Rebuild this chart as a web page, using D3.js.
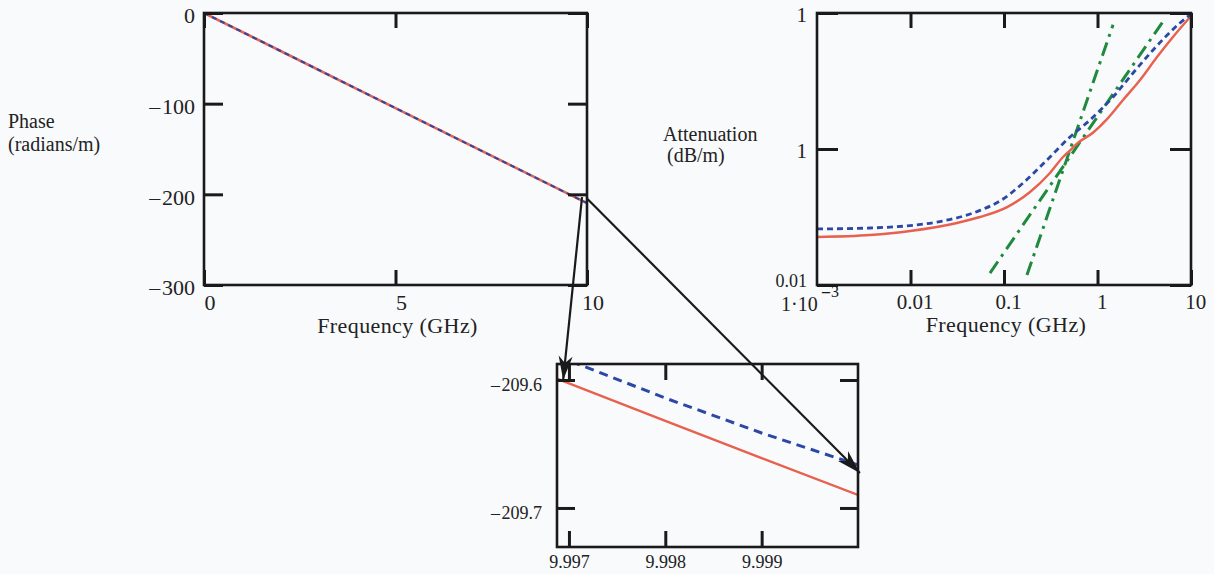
<!DOCTYPE html>
<html>
<head>
<meta charset="utf-8">
<script src="https://cdn.jsdelivr.net/npm/d3@7"></script>
<style>
body { margin: 0; background: #f9fafc; }
svg { display: block; font-family: "Liberation Serif", "Times New Roman", serif; }
.frame { fill: none; stroke: #1a1a1a; stroke-width: 2.6; }
.tick line { stroke: #1a1a1a; stroke-width: 3; }
.tick text { fill: #222; }
.domain { display: none; }
.lbl { fill: #222; }
</style>
</head>
<body>
<svg id="chart" width="1214" height="574"></svg>
<script>
// phase vs frequency (left)
const phaseFreq = [0, 2, 4, 6, 8, 10];
const phaseRed = [0, -41.9, -83.9, -125.8, -167.8, -209.69];
const phaseBlue = [0, -41.9, -83.9, -125.8, -167.8, -209.67];
const phaseYTicks = [0, -100, -200, -300];
const phaseXTicks = [0, 5, 10];

// attenuation vs frequency (right, log-log)
const attRedFreq = [0.001, 0.00369, 0.00989, 0.0314, 0.0553, 0.108, 0.19, 0.31, 0.428, 0.52, 0.604, 0.9, 1.265, 1.875, 2.85, 4.33, 6.41, 10];
const attRedVal = [0.0508, 0.0543, 0.0622, 0.0817, 0.1, 0.14, 0.233, 0.444, 0.762, 0.98, 1.2, 1.75, 2.75, 5.26, 10.35, 22.5, 44.4, 90.4];
const attBlueFreq = [0.001, 0.00369, 0.0192, 0.0553, 0.0906, 0.16, 0.288, 0.508, 0.832, 1.466, 2.4, 3.93, 7.62, 10];
const attBlueVal = [0.0667, 0.0689, 0.0843, 0.125, 0.172, 0.316, 0.689, 1.5, 2.67, 5.82, 13.1, 28.6, 71.3, 96.6];
const attGreenAFreq = [0.0708, 0.2, 0.5, 1, 2, 5.02];
const attGreenAVal = [0.015, 0.12, 0.748, 2.99, 11.97, 75.3];
const attGreenBFreq = [0.176, 0.3, 0.5, 0.8, 1.0, 1.466];
const attGreenBVal = [0.014, 0.118, 0.912, 5.98, 14.6, 67.0];
const attXTicks = [0.01, 0.1, 1, 10];
const attYTicks = [0.01, 1, 100];
const attYLabels = ["0.01", "1", "1"];

// zoomed inset near 10 GHz
const zoomFreq = [9.99688, 9.998, 9.999, 10.0];
const zoomRed = [-209.5992, -209.632, -209.661, -209.6898];
const zoomBlue = [-209.5813, -209.6141, -209.6414, -209.6664];
const zoomXTicks = [9.997, 9.998, 9.999];
const zoomYTicks = [-209.6, -209.7];

const RED = "#e8604e", BLUE = "#2b48a6", GREEN = "#1f8a3e", INK = "#1a1a1a";
const SERIF = "'Liberation Serif', 'Times New Roman', serif";

const svg = d3.select("#chart");
const defs = svg.append("defs");

defs.append("marker")
    .attr("id", "arrow")
    .attr("markerUnits", "userSpaceOnUse")
    .attr("viewBox", "-24 -9 26 18")
    .attr("markerWidth", 26).attr("markerHeight", 18)
    .attr("refX", 0).attr("refY", 0)
    .attr("orient", "auto")
    .append("path")
    .attr("d", "M0,0 L-24,-7 L-17,0 L-24,7 Z")
    .attr("fill", INK);

function clip(id, x, y) {
    const [x0, x1] = x.range(), [y0, y1] = y.range();
    defs.append("clipPath").attr("id", id).append("rect")
        .attr("x", x0).attr("y", y1).attr("width", x1 - x0).attr("height", y0 - y1);
}

function frame(x, y) {
    const [x0, x1] = x.range(), [y0, y1] = y.range();
    svg.append("rect").attr("class", "frame")
        .attr("x", x0).attr("y", y1).attr("width", x1 - x0).attr("height", y0 - y1);
}

function axes(x, y, o) {
    const [x0, x1] = x.range(), [y0, y1] = y.range();
    const g = svg.append("g");
    const left = g.append("g").attr("transform", `translate(${x0},0)`)
        .call(d3.axisLeft(y).tickValues(o.yTicks).tickSize(-o.yLen).tickPadding(o.yPad).tickFormat(o.yFmt));
    g.append("g").attr("transform", `translate(${x1},0)`)
        .call(d3.axisRight(y).tickValues(o.yTicks).tickSize(-o.yLen).tickFormat(""));
    const bottom = g.append("g").attr("transform", `translate(0,${y0})`)
        .call(d3.axisBottom(x).tickValues(o.xTicks).tickSize(-o.xLen).tickPadding(o.xPad).tickFormat(o.xFmt));
    g.append("g").attr("transform", `translate(0,${y1})`)
        .call(d3.axisTop(x).tickValues(o.xTicks).tickSize(-o.xLen).tickFormat(""));
    g.selectAll("g").attr("font-size", o.fs).attr("font-family", SERIF);
    left.selectAll("text").attr("dy", o.yDy || "0.45em");
    bottom.selectAll("text").attr("dx", o.xDx || 0);
    return { left, bottom };
}

// Mathcad style negative numbers: short dash, small gap, digits
const minus = v => v < 0 ? "\u2013\u200a" + Math.abs(v) : String(v);

// ---------- left: phase ----------
const px = d3.scaleLinear().domain([0, 10]).range([204, 587]);
const py = d3.scaleLinear().domain([-300, 0]).range([285, 13]);
clip("clipPhase", px, py);

const phaseLine = (vals) => d3.line().x((d, i) => px(phaseFreq[i])).y(d => py(d))(vals);
const gp = svg.append("g").attr("clip-path", "url(#clipPhase)");
gp.append("path").attr("d", phaseLine(phaseRed)).attr("fill", "none").attr("stroke", RED).attr("stroke-width", 2.6);
gp.append("path").attr("d", phaseLine(phaseBlue)).attr("fill", "none").attr("stroke", BLUE)
    .attr("stroke-width", 2).attr("stroke-dasharray", "5,4");

axes(px, py, {
    fs: 22, yTicks: phaseYTicks, yLen: 19, yPad: 9, yFmt: minus,
    xTicks: phaseXTicks, xLen: 15, xPad: 9, xFmt: d => String(d), xDx: "0.25em"
});
frame(px, py);

svg.append("text").attr("class", "lbl").attr("x", px(5) + 2).attr("y", 333).attr("font-size", 22)
    .attr("text-anchor", "middle").attr("letter-spacing", "0.4px").text("Frequency (GHz)");
svg.append("text").attr("class", "lbl").attr("x", 8).attr("y", 128).attr("font-size", 20).text("Phase");
svg.append("text").attr("class", "lbl").attr("x", 8).attr("y", 151).attr("font-size", 20).text("(radians/m)");

// ---------- right: attenuation ----------
const ax = d3.scaleLog().domain([0.001, 10]).range([817, 1191]);
const ay = d3.scaleLog().domain([0.01, 100]).range([285, 13]);
clip("clipAtt", ax, ay);

const logLine = (fs, vs, curve) => d3.line().curve(curve || d3.curveLinear)
    .x((d, i) => ax(fs[i])).y(d => ay(d))(vs);
const ga = svg.append("g").attr("clip-path", "url(#clipAtt)");
ga.append("path").attr("d", logLine(attGreenAFreq, attGreenAVal)).attr("fill", "none").attr("stroke", GREEN)
    .attr("stroke-width", 3).attr("stroke-dasharray", "14,6,3,6");
ga.append("path").attr("d", logLine(attGreenBFreq, attGreenBVal)).attr("fill", "none").attr("stroke", GREEN)
    .attr("stroke-width", 3).attr("stroke-dasharray", "14,6,3,6");
ga.append("path").attr("d", logLine(attRedFreq, attRedVal, d3.curveMonotoneX)).attr("fill", "none")
    .attr("stroke", RED).attr("stroke-width", 2.4);
ga.append("path").attr("d", logLine(attBlueFreq, attBlueVal, d3.curveMonotoneX)).attr("fill", "none")
    .attr("stroke", BLUE).attr("stroke-width", 2.8).attr("stroke-dasharray", "6,4");

const attAx = axes(ax, ay, {
    fs: 21, yTicks: attYTicks, yLen: 21, yPad: 10, yFmt: (d, i) => attYLabels[i],
    xTicks: attXTicks, xLen: 15, xPad: 9, xFmt: d => String(d), xDx: "0.2em"
});
// bottom "0.01" sits just above the 1·10^-3 label, as in the original
attAx.left.selectAll("text").attr("dy", (d, i) => i === 0 ? "0.1em" : "0.4em")
    .attr("font-size", (d, i) => i === 0 ? 18 : null);
frame(ax, ay);

// 1·10^-3 label at the lower-left corner
svg.append("text").attr("class", "lbl").attr("x", ax(0.001) - 36).attr("y", 311).attr("font-size", 20)
    .text("1\u00b710");
svg.append("text").attr("x", ax(0.001) + 5).attr("y", 297).attr("font-size", 16).attr("fill", "#222")
    .append("tspan").attr("font-weight", "bold").attr("fill", INK).text("\u2013")
    .append("tspan").attr("font-weight", "normal").attr("dx", 1).text("3");

svg.append("text").attr("class", "lbl").attr("x", ax(0.1) + 2).attr("y", 332).attr("font-size", 22)
    .attr("text-anchor", "middle").attr("letter-spacing", "0.4px").text("Frequency (GHz)");
svg.append("text").attr("class", "lbl").attr("x", 663).attr("y", 141).attr("font-size", 20).text("Attenuation");
svg.append("text").attr("class", "lbl").attr("x", 667).attr("y", 162).attr("font-size", 20).text("(dB/m)");

// ---------- inset: zoom near 10 GHz ----------
const zx = d3.scaleLinear().domain([9.996876, 10.0]).range([557, 858]);
const zy = d3.scaleLinear().domain([-209.7305, -209.5875]).range([547, 364]);
clip("clipZoom", zx, zy);

const zLine = (vals) => d3.line().x((d, i) => zx(zoomFreq[i])).y(d => zy(d))(vals);
const gz = svg.append("g").attr("clip-path", "url(#clipZoom)");
gz.append("path").attr("d", zLine(zoomRed)).attr("fill", "none").attr("stroke", RED).attr("stroke-width", 2.4);
gz.append("path").attr("d", zLine(zoomBlue)).attr("fill", "none").attr("stroke", BLUE)
    .attr("stroke-width", 3).attr("stroke-dasharray", "9,6");

axes(zx, zy, {
    fs: 18, yTicks: zoomYTicks, yLen: 18, yPad: 15, yFmt: d => minus(d.toFixed(1) * 1), yDy: "0.6em",
    xTicks: zoomXTicks, xLen: 16, xPad: 8, xFmt: d => d.toFixed(3), xDx: 0
});
frame(zx, zy);

// ---------- arrows from the end of the phase curve to the inset ----------
const arrows = [
    { from: [px(9.87), py(-203)], to: [zx(9.99694), zy(-209.6)] },
    { from: [px(10), py(-204.5)], to: [zx(10.00002), zy(-209.6727)] }
];
svg.append("g").selectAll("line").data(arrows).join("line")
    .attr("x1", d => d.from[0]).attr("y1", d => d.from[1])
    .attr("x2", d => d.to[0]).attr("y2", d => d.to[1])
    .attr("stroke", INK).attr("stroke-width", 2.2)
    .attr("marker-end", "url(#arrow)");
</script>
</body>
</html>
